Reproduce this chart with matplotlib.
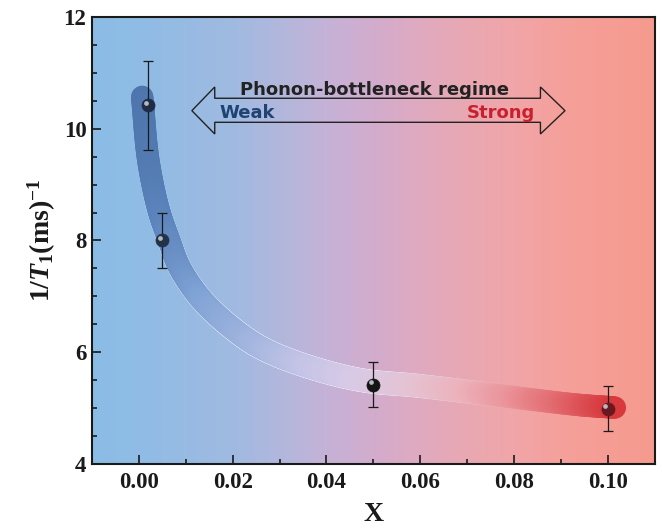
import numpy as np
import matplotlib
matplotlib.use("Agg")
import matplotlib.pyplot as plt
from matplotlib.collections import LineCollection
from matplotlib.patches import Polygon
from matplotlib.ticker import MultipleLocator
import matplotlib.transforms as mtransforms

# ---------------- data ----------------
x_data = [0.002, 0.005, 0.05, 0.10]
y_data = [10.42, 8.00, 5.42, 4.99]
y_err = [0.80, 0.50, 0.40, 0.40]
sphere_colors = ["#1f2d46", "#243248", "#141414", "#6a1820"]

# guide band centre line
band_x = [0.0007, 0.0020, 0.0042, 0.0065, 0.0086, 0.0135, 0.0213, 0.0270,
          0.0362, 0.0475, 0.0595, 0.0765, 0.0935, 0.1015]
band_y = [10.57, 9.44, 8.55, 7.99, 7.53, 6.93, 6.34, 6.04,
          5.74, 5.50, 5.40, 5.23, 5.06, 5.01]

xticks = [0.00, 0.02, 0.04, 0.06, 0.08, 0.10]
xtick_labels = ["0.00", "0.02", "0.04", "0.06", "0.08", "0.10"]
yticks = [4, 6, 8, 10, 12]
ytick_labels = ["4", "6", "8", "10", "12"]

# ---------------- colour stops ----------------
bg_pos = [-0.01, 0.0, 0.02, 0.03, 0.04, 0.05, 0.06, 0.07, 0.08, 0.09, 0.11]
bg_rgb = [(139, 189, 230), (143, 188, 229), (160, 186, 225), (178, 183, 220),
          (197, 178, 215), (210, 172, 205), (224, 170, 192), (232, 168, 178),
          (241, 165, 168), (245, 160, 155), (246, 154, 142)]
band_pos = [0.0, 0.005, 0.0135, 0.027, 0.036, 0.047, 0.06, 0.07, 0.08, 0.09, 0.102]
band_rgb = [(76, 116, 171), (92, 132, 188), (128, 163, 213), (168, 184, 224),
            (196, 196, 230), (216, 202, 230), (229, 194, 210), (236, 178, 188),
            (234, 148, 154), (226, 108, 113), (214, 54, 58)]
edge_w_pos = [0.0, 0.008, 0.02, 0.05, 0.065, 0.08, 0.1]
edge_w = [0.0, 0.25, 0.65, 0.65, 0.35, 0.0, 0.0]


def interp_rgb(pos, stops, xs):
    arr = np.array(stops, dtype=float) / 255.0
    return np.stack([np.interp(xs, pos, arr[:, i]) for i in range(3)], axis=-1)


def catmull_rom(px, py, sx, sy, n=20):
    """Centripetal Catmull-Rom drawing path through the given points."""
    P = np.column_stack([np.array(px) * sx, np.array(py) * sy])
    P = np.vstack([2 * P[0] - P[1], P, 2 * P[-1] - P[-2]])
    out = []
    for i in range(1, len(P) - 2):
        p0, p1, p2, p3 = P[i - 1], P[i], P[i + 1], P[i + 2]
        t0 = 0.0
        t1 = t0 + np.linalg.norm(p1 - p0) ** 0.5
        t2 = t1 + np.linalg.norm(p2 - p1) ** 0.5
        t3 = t2 + np.linalg.norm(p3 - p2) ** 0.5
        for t in np.linspace(t1, t2, n, endpoint=False):
            a1 = (t1 - t) / (t1 - t0) * p0 + (t - t0) / (t1 - t0) * p1
            a2 = (t2 - t) / (t2 - t1) * p1 + (t - t1) / (t2 - t1) * p2
            a3 = (t3 - t) / (t3 - t2) * p2 + (t - t2) / (t3 - t2) * p3
            b1 = (t2 - t) / (t2 - t0) * a1 + (t - t0) / (t2 - t0) * a2
            b2 = (t3 - t) / (t3 - t1) * a2 + (t - t1) / (t3 - t1) * a3
            out.append((t2 - t) / (t2 - t1) * b1 + (t - t1) / (t2 - t1) * b2)
    out.append(P[-2])
    out = np.array(out)
    return out[:, 0] / sx, out[:, 1] / sy


plt.rcParams["mathtext.fontset"] = "custom"
plt.rcParams["mathtext.rm"] = "Liberation Serif:bold"
plt.rcParams["mathtext.it"] = "Liberation Serif:bold:italic"
plt.rcParams["mathtext.bf"] = "Liberation Serif:bold"

fig = plt.figure(figsize=(6.62, 5.30), dpi=100)
ax = fig.add_axes([0.139, 0.1245, 0.850, 0.8435])
xmin, xmax, ymin, ymax = -0.01, 0.11, 4, 12
ax.set_xlim(xmin, xmax)
ax.set_ylim(ymin, ymax)

# background gradient
gx = np.linspace(xmin, xmax, 400)
img = interp_rgb(bg_pos, bg_rgb, gx)[None, :, :]
ax.imshow(img, extent=[xmin, xmax, ymin, ymax], aspect="auto", zorder=0,
          interpolation="bilinear")

# band drawn as smooth path with gradient colouring
cx, cy = catmull_rom(band_x, band_y, 4712.0, 55.9, n=24)
pts = np.column_stack([cx, cy])
segs = np.stack([pts[:-1], pts[1:]], axis=1)
mids = (pts[:-1, 0] + pts[1:, 0]) / 2

bgc = interp_rgb(bg_pos, bg_rgb, mids)
w = np.interp(mids, edge_w_pos, edge_w)[:, None]
edge_cols = bgc * (1 - w) + w
lc_edge = LineCollection(segs, colors=edge_cols, linewidths=17.2,
                         capstyle="round", joinstyle="round", zorder=1)
ax.add_collection(lc_edge)
band_cols = interp_rgb(band_pos, band_rgb, mids)
lc = LineCollection(segs, colors=band_cols, linewidths=16.2,
                    capstyle="round", joinstyle="round", zorder=2)
ax.add_collection(lc)

# error bars
ax.errorbar(x_data, y_data, yerr=y_err, fmt="none", ecolor="#1a1a1a",
            elinewidth=0.9, capsize=3.4, capthick=0.9, zorder=4)

# spheres
for xi, yi, c in zip(x_data, y_data, sphere_colors):
    ax.plot([xi], [yi], marker="o", markersize=9.4, color=c,
            markeredgecolor=c, markeredgewidth=0.5, zorder=5)
off = mtransforms.ScaledTranslation(-2.0 / 72, 1.6 / 72, fig.dpi_scale_trans)
ax.plot(x_data, y_data, linestyle="none", marker="o", markersize=3.4,
        color="#c4cad4", markeredgewidth=0, alpha=0.9,
        transform=ax.transData + off, zorder=6)

# double arrow
xl_tip, xl_base, xr_base, xr_tip = 0.01129, 0.01617, 0.08563, 0.09087
y_mid, y_bt, y_bb, y_ht, y_hb = 10.323, 10.545, 10.115, 10.747, 9.906
arrow = Polygon([(xl_tip, y_mid), (xl_base, y_ht), (xl_base, y_bt),
                 (xr_base, y_bt), (xr_base, y_ht), (xr_tip, y_mid),
                 (xr_base, y_hb), (xr_base, y_bb), (xl_base, y_bb),
                 (xl_base, y_hb)], closed=True, fill=False,
                edgecolor="#222222", linewidth=1.0, zorder=3,
                joinstyle="miter")
ax.add_patch(arrow)
ax.text(0.0503, 10.604, "Phonon-bottleneck regime", ha="center",
        va="baseline", fontsize=13, fontweight="bold", color="#222222",
        family="DejaVu Sans", zorder=7)
ax.text(0.01708, 10.187, "Weak", ha="left", va="baseline", fontsize=13,
        fontweight="bold", color="#1f4473", family="DejaVu Sans", zorder=7)
ax.text(0.08457, 10.187, "Strong", ha="right", va="baseline", fontsize=13,
        fontweight="bold", color="#c8202e", family="DejaVu Sans", zorder=7)

# axes styling
ax.set_xticks(xticks)
ax.set_xticklabels(xtick_labels)
ax.set_yticks(yticks)
ax.set_yticklabels(ytick_labels)
ax.xaxis.set_minor_locator(MultipleLocator(0.01))
ax.yaxis.set_minor_locator(MultipleLocator(0.5))
ax.tick_params(which="both", direction="in", top=False, right=False,
               width=1.2, colors="#1a1a1a")
ax.tick_params(which="major", length=6.5)
ax.tick_params(which="minor", length=3.3)
ax.tick_params(axis="x", pad=6)
ax.tick_params(axis="y", pad=4)
for lab in ax.get_xticklabels() + ax.get_yticklabels():
    lab.set_fontfamily("Liberation Serif")
    lab.set_fontweight("bold")
    lab.set_fontsize(16.5)
    lab.set_color("#1a1a1a")
for sp in ax.spines.values():
    sp.set_linewidth(1.5)
    sp.set_color("#1a1a1a")
    sp.set_zorder(8)

ax.set_xlabel("X", fontfamily="Liberation Serif", fontweight="bold",
              fontsize=20, color="#1a1a1a", labelpad=6)
ax.set_ylabel(r"$\mathrm{1/}T_{\mathrm{1}}\mathrm{(ms)}^{\mathrm{-1}}$",
              fontsize=20, color="#1a1a1a", labelpad=4)

fig.savefig("out.png", dpi=100)
